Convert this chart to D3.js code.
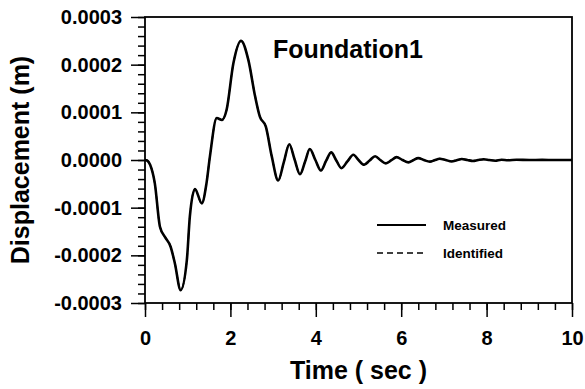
<!DOCTYPE html>
<html>
<head>
<meta charset="utf-8">
<script src="https://cdn.jsdelivr.net/npm/d3@7"></script>
<style>
  body { margin: 0; background: #fff; }
  text { font-family: "Liberation Sans", Arial, sans-serif; font-weight: bold; fill: #000; }
</style>
</head>
<body>
<div id="chart"></div>
<script>
// time axis (s)
var timeSec = [0, 0.05, 0.12, 0.23, 0.35, 0.47, 0.6, 0.7, 0.835, 0.98, 1.05, 1.17, 1.33, 1.44, 1.52,
    1.68, 1.8, 1.91, 2.07, 2.25, 2.42, 2.58, 2.69, 2.83, 2.97, 3.12, 3.25, 3.38, 3.5, 3.63, 3.75,
    3.86, 3.99, 4.12, 4.24, 4.36, 4.48, 4.6, 4.74, 4.88, 5.0, 5.13, 5.26, 5.39, 5.51, 5.64, 5.77,
    5.89, 6.03, 6.17, 6.28, 6.4, 6.53, 6.67, 6.78, 6.9, 7.04, 7.18, 7.3, 7.42, 7.55, 7.68, 7.8,
    7.93, 8.06, 8.2, 8.35, 8.5, 8.7, 9.0, 9.3, 9.6, 10];

// displacement (m)
var measured = [0, -0.000001, -0.00001, -0.000049, -0.00014, -0.000162, -0.000182, -0.000217, -0.000273,
    -0.00021, -0.000119, -0.000061, -0.000091, -0.000049, 0.000007, 0.000088, 0.000084, 0.000105,
    0.000203, 0.00025, 0.00021, 0.000133, 0.000091, 0.00007, 0.000007, -0.000043, -0.000005, 0.000033,
    0.000002, -0.00003, -0.000003, 0.000023, 0, -0.000022, -0.000002, 0.000016, -0.000001, -0.000017,
    -0.000003, 0.000011, 0, -0.00001, -0.000001, 0.000008, 0, -0.000007, -0.0000005, 0.000006, 0,
    -0.000005, -0.0000005, 0.000004, 0, -0.0000035, -0.0000005, 0.0000025, 0, -0.000003, -0.0000005,
    0.000002, 0, -0.000002, 0, 0.0000015, 0, -0.0000015, 0.0000005, -0.0000005, 0.0000005, 0,
    0.0000003, 0, 0];

var identified = [0, -0.000001, -0.00001, -0.000049, -0.00014, -0.000162, -0.000182, -0.000217, -0.000273,
    -0.00021, -0.000119, -0.000061, -0.000091, -0.000049, 0.000007, 0.000088, 0.000084, 0.000105,
    0.000203, 0.00025, 0.00021, 0.000133, 0.000091, 0.00007, 0.000007, -0.000043, -0.000005, 0.000033,
    0.000002, -0.00003, -0.000003, 0.000023, 0, -0.000022, -0.000002, 0.000016, -0.000001, -0.000017,
    -0.000003, 0.000011, 0, -0.00001, -0.000001, 0.000008, 0, -0.000007, -0.0000005, 0.000006, 0,
    -0.000005, -0.0000005, 0.000004, 0, -0.0000035, -0.0000005, 0.000003, 0, -0.0000025, 0,
    0.0000015, 0, -0.0000015, 0, 0.000001, 0, -0.000001, 0, 0, 0.0000004, 0,
    0, 0, 0];

var xTicks = [0, 2, 4, 6, 8, 10];
var yTicks = [-0.0003, -0.0002, -0.0001, 0, 0.0001, 0.0002, 0.0003];
var legendNames = ["Measured", "Identified"];

const width = 585, height = 389;
const margin = {top: 17, right: 13, bottom: 86, left: 145};

const svg = d3.select("#chart").append("svg")
    .attr("width", width)
    .attr("height", height);

var x = d3.scaleLinear().domain([0, 10]).range([margin.left, width - margin.right]);
var y = d3.scaleLinear().domain([-0.0003, 0.0003]).range([height - margin.bottom, margin.top]);

// minor ticks
var xMinor = d3.range(0, 10.001, 0.4);
var yMinor = d3.range(-0.0003, 0.0003001, 0.00002);

svg.append("g")
    .attr("transform", "translate(0," + (height - margin.bottom) + ")")
    .call(d3.axisBottom(x).tickValues(xMinor).tickSize(7).tickFormat(""))
    .call(g => g.select(".domain").remove())
    .selectAll("line").attr("stroke-width", 1.5);

svg.append("g")
    .attr("transform", "translate(" + margin.left + ",0)")
    .call(d3.axisLeft(y).tickValues(yMinor).tickSize(7).tickFormat(""))
    .call(g => g.select(".domain").remove())
    .selectAll("line").attr("stroke-width", 1.5);

// major ticks
var xAxis = svg.append("g")
    .attr("transform", "translate(0," + (height - margin.bottom) + ")")
    .call(d3.axisBottom(x).tickValues(xTicks).tickSize(14).tickPadding(14).tickFormat(d => d));
xAxis.select(".domain").remove();
xAxis.selectAll("line").attr("stroke-width", 1.5);
xAxis.selectAll("text").attr("font-size", 20).attr("font-family", null);

var yAxis = svg.append("g")
    .attr("transform", "translate(" + margin.left + ",0)")
    .call(d3.axisLeft(y).tickValues(yTicks).tickSize(14).tickPadding(9).tickFormat(d => d.toFixed(4)));
yAxis.select(".domain").remove();
yAxis.selectAll("line").attr("stroke-width", 1.5);
yAxis.selectAll("text").attr("font-size", 20).attr("font-family", null);

// frame
svg.append("rect")
    .attr("x", margin.left)
    .attr("y", margin.top)
    .attr("width", width - margin.left - margin.right)
    .attr("height", height - margin.top - margin.bottom)
    .attr("fill", "none")
    .attr("stroke", "#000")
    .attr("stroke-width", 1.8);

var line = d3.line()
    .x(function(d, i){ return x(timeSec[i]); })
    .y(function(d){ return y(d); })
    .curve(d3.curveMonotoneX);

svg.append("path")
    .datum(measured)
    .attr("d", line)
    .attr("fill", "none")
    .attr("stroke", "#000")
    .attr("stroke-width", 2.6);

svg.append("path")
    .datum(identified)
    .attr("d", line)
    .attr("fill", "none")
    .attr("stroke", "#000")
    .attr("stroke-width", 1.5)
    .attr("stroke-dasharray", "6,4");

// titles
svg.append("text")
    .attr("x", x(5))
    .attr("y", 379)
    .attr("text-anchor", "middle")
    .attr("font-size", 25)
    .text("Time ( sec )");

svg.append("text")
    .attr("transform", "translate(29," + y(0) + ") rotate(-90)")
    .attr("text-anchor", "middle")
    .attr("font-size", 25)
    .text("Displacement (m)");

svg.append("text")
    .attr("x", 273)
    .attr("y", 58)
    .attr("font-size", 25)
    .text("Foundation1");

// legend
var legendY = [225, 253];
legendNames.forEach(function(name, i){
    svg.append("line")
        .attr("x1", 377).attr("x2", 426)
        .attr("y1", legendY[i]).attr("y2", legendY[i])
        .attr("stroke", "#000")
        .attr("stroke-width", i == 0 ? 2 : 1.5)
        .attr("stroke-dasharray", i == 0 ? null : "6,4");
    svg.append("text")
        .attr("x", 443)
        .attr("y", legendY[i])
        .attr("dy", "0.35em")
        .attr("font-size", 13.5)
        .text(name);
});
</script>
</body>
</html>
